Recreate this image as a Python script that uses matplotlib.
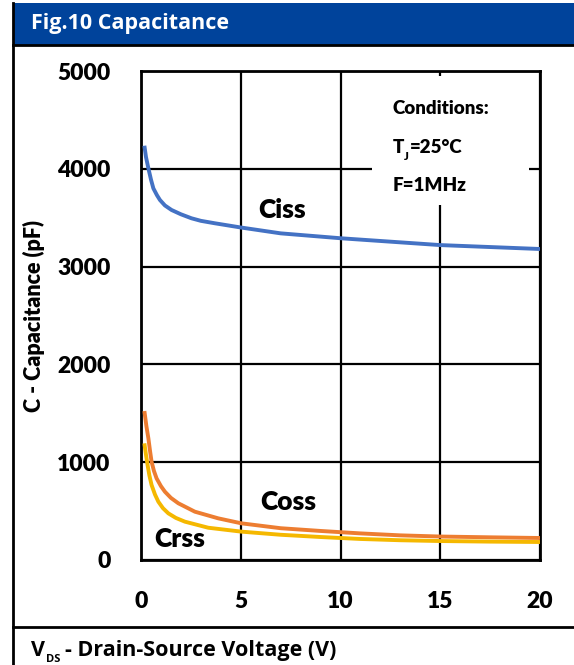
import numpy as np
import matplotlib
matplotlib.use("Agg")
import matplotlib.pyplot as plt
from matplotlib.patches import Rectangle

# values
v_ciss = [0.17, 0.25, 0.37, 0.5, 0.62, 0.8, 0.95, 1.2, 1.53, 2, 2.53, 3, 3.7, 5, 7, 10, 12.5, 15, 17.5, 20]
c_ciss = [4236, 4120, 4005, 3890, 3800, 3730, 3681, 3625, 3579, 3535, 3494, 3468, 3443, 3400, 3340, 3290, 3255, 3220, 3200, 3180]

v_coss = [0.17, 0.27, 0.37, 0.45, 0.53, 0.65, 0.78, 1.0, 1.2, 1.5, 1.87, 2.7, 3.87, 5.03, 7, 9, 11, 13, 15, 17.5, 20]
c_coss = [1523, 1370, 1244, 1120, 1005, 910, 835, 755, 698, 635, 580, 494, 426, 375, 325, 297, 272, 252, 240, 232, 225]

v_crss = [0.17, 0.25, 0.33, 0.42, 0.53, 0.7, 0.87, 1.1, 1.37, 1.75, 2.2, 3.37, 5.03, 7, 9, 11, 13, 15, 17.5, 20]
c_crss = [1193, 1075, 971, 865, 767, 670, 596, 530, 477, 430, 392, 330, 290, 258, 235, 215, 202, 194, 188, 184]

x_ticks = [0, 5, 10, 15, 20]
y_ticks = [0, 1000, 2000, 3000, 4000, 5000]

plt.rcParams['font.family'] = ['Lato', 'DejaVu Sans']
head_font = ['Open Sans', 'DejaVu Sans']

fig = plt.figure(figsize=(5.74, 6.65), dpi=100)
W, H = 574.0, 665.0

def fx(px):
    return px / W

def fy(py):
    return 1 - py / H

# title bar and frame
fig.patches.append(Rectangle((fx(13), fy(45)), 1, fy(3) - fy(45), transform=fig.transFigure,
                             facecolor='#00439B', edgecolor='none', zorder=0))
fig.add_artist(plt.Line2D([fx(13), 1], [fy(45), fy(45)], color='black', lw=2, transform=fig.transFigure))
fig.add_artist(plt.Line2D([fx(13), fx(13)], [fy(3), 0], color='black', lw=2, transform=fig.transFigure))
fig.add_artist(plt.Line2D([fx(13), 1], [fy(627), fy(627)], color='black', lw=2, transform=fig.transFigure))
fig.text(fx(31), fy(23), 'Fig.10 Capacitance', color='white', fontsize=15.5, fontweight='bold',
         family=head_font, va='center', ha='left')

# x label with subscript
t = fig.text(fx(31), fy(656), 'V', fontsize=15.5, fontweight='bold',
             family=head_font, va='baseline', ha='left')
t2 = fig.text(0, 0, 'DS', fontsize=8, fontweight='bold', family=head_font)
fig.canvas.draw()
r = fig.canvas.get_renderer()
bb = t.get_window_extent(r)
t2.set_position((bb.x1 / W + 0.001, fy(656) - 6 / H))
t2.set_va('baseline')
bb2 = t2.get_window_extent(r)
fig.text(bb2.x1 / W + 0.008, fy(656), '- Drain-Source Voltage (V)', fontsize=15.5, fontweight='bold',
         family=head_font, va='baseline', ha='left')

ax = fig.add_axes([fx(141), fy(560), (540 - 141) / W, (560 - 71) / H])
ax.set_xlim(0, 20)
ax.set_ylim(0, 5000)
ax.set_xticks(x_ticks)
ax.set_yticks(y_ticks)
ax.tick_params(length=0, labelsize=16.5)
for lab in ax.get_xticklabels() + ax.get_yticklabels():
    lab.set_fontweight('heavy')
ax.tick_params(axis='x', pad=22)
ax.tick_params(axis='y', pad=22)
ax.set_axisbelow(True)
ax.grid(True, color='black', lw=1.6)
for s in ax.spines.values():
    s.set_linewidth(2)

# white box behind the conditions text
ax.add_patch(Rectangle((11.6, 3630), 19.45 - 11.6, 4950 - 3630, facecolor='white',
                       edgecolor='none', zorder=1))

ax.plot(v_ciss, c_ciss, color='#4472C4', lw=2.8, zorder=3, solid_capstyle='butt')
ax.plot(v_coss, c_coss, color='#ED7D31', lw=2.8, zorder=3, solid_capstyle='butt')
ax.plot(v_crss, c_crss, color='#F5B800', lw=2.8, zorder=3, solid_capstyle='butt')

ax.text(7.05, 3580, 'Ciss', fontsize=19, fontweight='heavy', ha='center', va='center', zorder=4)
ax.text(7.4, 590, 'Coss', fontsize=19, fontweight='heavy', ha='center', va='center', zorder=4)
ax.text(1.95, 210, 'Crss', fontsize=19, fontweight='heavy', ha='center', va='center', zorder=4)

ax.text(12.6, 4620, 'Conditions:', fontsize=13.5, fontweight='heavy', ha='left', va='center', zorder=4)
tj = ax.text(12.6, 4220, 'T', fontsize=13.5, fontweight='heavy', ha='left', va='center', zorder=4)
ax.annotate('J', xy=(1, 0), xycoords=tj, xytext=(0, -3), textcoords='offset points',
            fontsize=8, fontweight='heavy', ha='left', va='baseline', zorder=4)
ax.annotate('=25°C', xy=(1, 0), xycoords=tj, xytext=(4.5, 0), textcoords='offset points',
            fontsize=13.5, fontweight='heavy', ha='left', va='bottom', zorder=4)
ax.text(12.6, 3830, 'F=1MHz', fontsize=13.5, fontweight='heavy', ha='left', va='center', zorder=4)

ax.set_ylabel('C - Capacitance (pF)', fontsize=15.5, fontweight='heavy')
ax.yaxis.set_label_coords(-(141 - 45) / 399.0, 0.5)

fig.savefig('out.png', dpi=100)
